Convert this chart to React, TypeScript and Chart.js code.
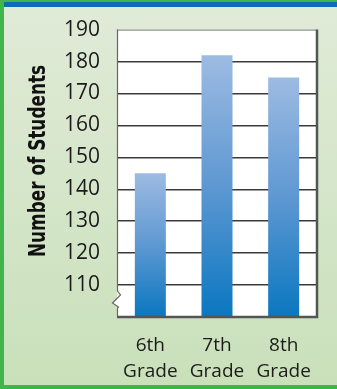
import { useEffect, useRef } from "react";
import { Chart, registerables } from "chart.js";

Chart.register(...registerables);

const categories: string[][] = [["6th", "Grade"], ["7th", "Grade"], ["8th", "Grade"]];
const students: number[] = [145, 182, 175];
const yMin = 100;
const yMax = 190;
const yStep = 10;
const yAxisTitle = "Number of Students";

const W = 337;
const H = 389;
const FONT = "'Open Sans', 'Noto Sans', sans-serif";
const INK = "#1c1a1b";

const framePlugin = {
  id: "frame",
  beforeDraw(chart: any) {
    const { ctx, chartArea: a } = chart;
    ctx.save();
    const g = ctx.createLinearGradient(0, 0, 0, H);
    g.addColorStop(0, "#e0ebd8");
    g.addColorStop(1, "#c9e0ba");
    ctx.fillStyle = g;
    ctx.fillRect(0, 0, W, H);
    ctx.fillStyle = "#0a6db6";
    ctx.fillRect(0, 2, W, 5);
    ctx.fillStyle = "#3fb54b";
    ctx.fillRect(0, 0, W, 2);
    ctx.fillRect(0, 0, 4, H);
    ctx.fillRect(0, H - 4, W, 4);
    ctx.fillStyle = "#ffffff";
    ctx.fillRect(a.left, a.top, a.right - a.left, a.bottom - a.top);

    // y axis title
    ctx.translate(45, 161);
    ctx.rotate(-Math.PI / 2);
    ctx.font = "bold 23px 'Liberation Sans Narrow', 'DejaVu Sans Condensed', 'Liberation Sans', sans-serif";
    const w = ctx.measureText(yAxisTitle).width;
    ctx.scale(192 / w, 1);
    ctx.fillStyle = "#111111";
    ctx.textAlign = "center";
    ctx.textBaseline = "alphabetic";
    ctx.fillText(yAxisTitle, 0, 0);
    ctx.restore();
  },
  afterDatasetsDraw(chart: any) {
    const { ctx, chartArea: a } = chart;
    const yb = a.bottom;
    ctx.save();
    ctx.strokeStyle = "#777777";
    ctx.lineWidth = 1;
    ctx.beginPath();
    ctx.moveTo(a.left, a.top + 0.5);
    ctx.lineTo(a.right, a.top + 0.5);
    ctx.stroke();
    ctx.strokeStyle = "#555555";
    ctx.lineWidth = 2.5;
    ctx.beginPath();
    ctx.moveTo(a.right, a.top);
    ctx.lineTo(a.right, yb);
    ctx.lineTo(a.left, yb);
    ctx.stroke();
    const x = a.left + 0.5;
    ctx.fillStyle = "#ffffff";
    ctx.beginPath();
    ctx.moveTo(x, yb - 26);
    ctx.lineTo(x + 3, yb - 22);
    ctx.lineTo(x - 5, yb - 14);
    ctx.lineTo(x + 1, yb - 10);
    ctx.lineTo(x + 6, yb - 10);
    ctx.lineTo(x + 6, yb - 26);
    ctx.closePath();
    ctx.fill();
    ctx.strokeStyle = "#666666";
    ctx.lineWidth = 1.2;
    ctx.beginPath();
    ctx.moveTo(x, a.top);
    ctx.lineTo(x, yb - 26);
    ctx.lineTo(x + 3, yb - 22);
    ctx.lineTo(x - 5, yb - 14);
    ctx.lineTo(x + 1, yb - 10);
    ctx.lineTo(x, yb - 9);
    ctx.lineTo(x, yb);
    ctx.stroke();
    ctx.restore();
  },
};

export default function App() {
  const ref = useRef<HTMLCanvasElement | null>(null);

  useEffect(() => {
    if (!ref.current) return;
    const chart = new Chart(ref.current, {
      type: "bar",
      data: {
        labels: categories,
        datasets: [
          {
            data: students,
            backgroundColor: (c: any) => {
              const ch = c.chart;
              const a = ch.chartArea;
              if (!a || c.type !== "data") return "#5b94d0";
              const top = ch.scales.y.getPixelForValue(c.raw);
              const g = ch.ctx.createLinearGradient(0, top, 0, a.bottom);
              g.addColorStop(0, "#9dbbe2");
              g.addColorStop(0.5, "#5e98d2");
              g.addColorStop(1, "#0a77c0");
              return g;
            },
            borderWidth: 0,
            categoryPercentage: 1,
            barPercentage: 0.465,
          },
        ],
      },
      options: {
        animation: false,
        responsive: false,
        devicePixelRatio: 1,
        layout: { padding: { top: 25, right: 20, left: 0, bottom: 0 } },
        plugins: {
          legend: { display: false },
          tooltip: { enabled: false },
          title: { display: false },
        },
        scales: {
          x: {
            grid: { display: false },
            border: { display: false },
            ticks: {
              color: INK,
              font: { family: FONT, size: 19, lineHeight: 26 / 19 },
              padding: 8,
              maxRotation: 0,
              autoSkip: false,
            },
            afterFit: (s: any) => {
              s.height = 72;
            },
          },
          y: {
            min: yMin,
            max: yMax,
            border: { display: false },
            grid: {
              drawTicks: false,
              color: (c: any) =>
                c.tick && (c.tick.value === yMin || c.tick.value === yMax) ? "rgba(0,0,0,0)" : "#3a3a3a",
              lineWidth: 1.5,
            },
            ticks: {
              stepSize: yStep,
              color: INK,
              font: { family: FONT, size: 21 },
              padding: 17,
              callback: (v: any) => (v === yMin ? "" : String(v)),
            },
            afterFit: (s: any) => {
              s.width = 117;
            },
          },
        },
      },
      plugins: [framePlugin],
    });
    return () => chart.destroy();
  }, []);

  return (
    <div style={{ position: "absolute", left: 0, top: 0, width: W, height: H }}>
      <canvas ref={ref} width={W} height={H} style={{ display: "block" }} />
    </div>
  );
}
